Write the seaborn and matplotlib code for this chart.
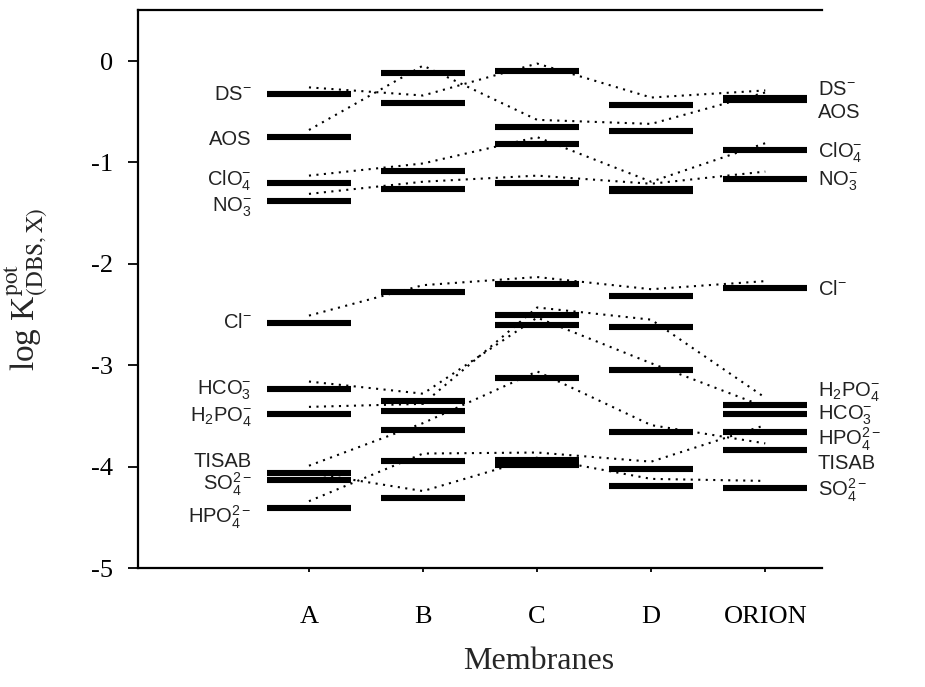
import numpy as np
import pandas as pd
import matplotlib
matplotlib.use("Agg")
import matplotlib.pyplot as plt
import seaborn as sns

# ---------------- data ----------------
membranes = ["A", "B", "C", "D", "ORION"]
ions = ["DS", "AOS", "ClO4", "NO3", "Cl", "HCO3", "H2PO4", "TISAB", "SO4", "HPO4"]
ion_labels = [r"DS$^{-}$", "AOS", r"ClO$_4^{-}$", r"NO$_3^{-}$", r"Cl$^{-}$",
              r"HCO$_3^{-}$", r"H$_2$PO$_4^{-}$", "TISAB", r"SO$_4^{2-}$",
              r"HPO$_4^{2-}$"]

logk_A = [-0.33, -0.75, -1.20, -1.38, -2.58, -3.23, -3.48, -4.06, -4.13, -4.41]
logk_B = [-0.41, -0.115, -1.08, -1.26, -2.28, -3.35, -3.45, -3.64, -4.31, -3.94]
logk_C = [-0.095, -0.65, -0.82, -1.20, -2.20, -2.60, -2.50, -3.13, -3.98, -3.93]
logk_D = [-0.43, -0.69, -1.26, -1.28, -2.32, -3.05, -2.62, -3.66, -4.19, -4.02]
logk_ORION = [-0.36, -0.38, -0.88, -1.16, -2.24, -3.48, -3.39, -3.84, -4.21, -3.66]

y_ticks = [0, -1, -2, -3, -4, -5]

# ---------------- layout / style ----------------
bar_half = 0.37
line_lift = 0.07
left_label_nudge = [0.02, 0.0, 0.05, -0.03, 0.02, 0.02, 0.0, 0.13, -0.03, -0.07]
right_label_nudge = [0.10, -0.11, 0.0, 0.01, 0.01, 0.02, 0.16, -0.11, -0.01, -0.05]

rows = []
for mi, vals in enumerate([logk_A, logk_B, logk_C, logk_D, logk_ORION]):
    for ion, v in zip(ions, vals):
        rows.append({"membrane": membranes[mi], "pos": mi + 1, "ion": ion, "logk": v})
df = pd.DataFrame(rows)
df["line_y"] = df["logk"] + line_lift

sns.set_theme(style="ticks")
plt.rcParams["font.family"] = ["Liberation Serif", "DejaVu Serif"]
plt.rcParams["axes.unicode_minus"] = False
plt.rcParams["mathtext.fontset"] = "custom"
plt.rcParams["mathtext.rm"] = "Liberation Sans"
plt.rcParams["mathtext.it"] = "Liberation Sans"
plt.rcParams["mathtext.bf"] = "Liberation Sans"

fig = plt.figure(figsize=(9.25, 6.87), dpi=100)
ax = fig.add_axes([0.149, 0.173, 0.74, 0.812])

sns.lineplot(data=df, x="pos", y="line_y", units="ion", estimator=None,
             color="black", linestyle=(0, (1, 2.6)), linewidth=1.5,
             legend=False, ax=ax, zorder=2)

ax.hlines(df["logk"], df["pos"] - bar_half, df["pos"] + bar_half,
          color="black", linewidth=4.4, zorder=3)

sans = ["Liberation Sans", "DejaVu Sans"]
for j, lab in enumerate(ion_labels):
    ax.annotate(lab, xy=(1 - bar_half - 0.13, logk_A[j] + left_label_nudge[j]),
                xytext=(0, -5.4), textcoords="offset points",
                ha="right", va="baseline", fontsize=14.5, family=sans,
                math_fontfamily="custom", color="#222222")
    ax.annotate(lab, xy=(5 + bar_half + 0.09, logk_ORION[j] + right_label_nudge[j]),
                xytext=(0, -5.4), textcoords="offset points",
                ha="left", va="baseline", fontsize=14.5, family=sans,
                math_fontfamily="custom", color="#222222")

ax.set_xlim(-0.5, 5.5)
ax.set_ylim(-5, 0.5)
ax.set_xticks(range(1, 6))
ax.set_xticklabels(membranes, fontsize=19)
ax.set_yticks(y_ticks)
ax.set_yticklabels([str(t) for t in y_ticks], fontsize=19)
ax.tick_params(axis="y", direction="out", length=7, width=1.3, pad=11, colors="black")
ax.tick_params(axis="x", direction="out", length=3, width=1.3, pad=24, colors="black")

ax.set_xlabel("Membranes", fontsize=23)
ax.xaxis.set_label_coords(0.585, -0.142)
ax.set_ylabel(r"log K$^{\rm pot}_{\rm (DBS,X)}$", fontsize=24)
ax.yaxis.label.set_math_fontfamily("stix")
ax.yaxis.set_label_coords(-0.128, 0.5)

for side in ["left", "bottom", "top"]:
    ax.spines[side].set_linewidth(1.6)
    ax.spines[side].set_color("black")
ax.spines["right"].set_visible(False)
ax.set_facecolor("white")

fig.savefig("out.png", dpi=100, facecolor="white")
